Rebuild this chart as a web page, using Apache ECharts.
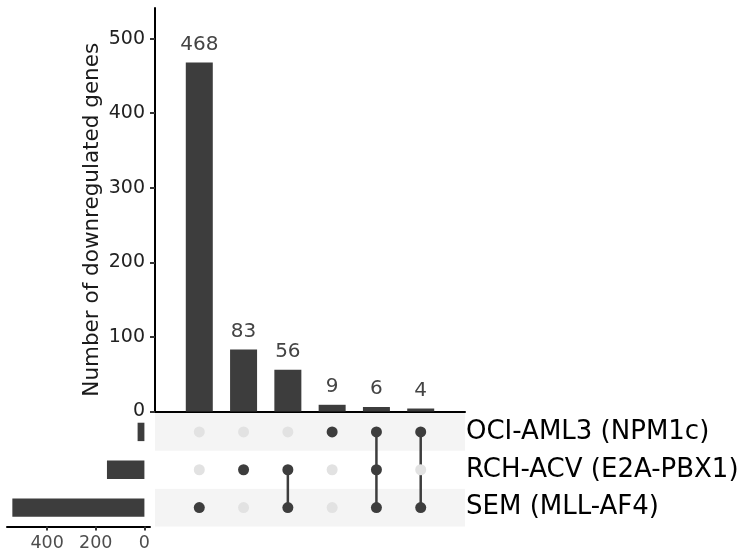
<!DOCTYPE html>
<html>
<head>
<meta charset="utf-8">
<script src="https://cdn.jsdelivr.net/npm/echarts@6/dist/echarts.min.js"></script>
<style>
html,body{margin:0;padding:0;background:#fff;}
#chart{width:739px;height:553px;}
</style>
</head>
<body>
<div id="chart"></div>
<script>
// ---- data ----
const intersectionNames = ['SEM', 'RCH', 'RCH&SEM', 'OCI', 'OCI&RCH&SEM', 'OCI&SEM'];
const intersectionSizes = [468, 83, 56, 9, 6, 4];
const setLabels = ['SEM (MLL-AF4)', 'RCH-ACV (E2A-PBX1)', 'OCI-AML3 (NPM1c)']; // bottom to top
const setSizes = [543, 154, 28];
const memberSEM = [1, 0, 1, 0, 1, 1];
const memberRCH = [0, 1, 1, 0, 1, 0];
const memberOCI = [0, 0, 0, 1, 1, 1];
const setSizeTicks = [0, 200, 400];
const yTitle = 'Number of downregulated genes';

const FONT = 'DejaVu Sans';
const DARK = '#3d3d3d';
const membership = [memberSEM, memberRCH, memberOCI];

const barData = intersectionSizes.map((v, i) => [i + 1, v]);
const dotData = [];
membership.forEach((row, r) => {
  row.forEach((m, i) => {
    dotData.push({ value: [i + 1, setLabels[r]], itemStyle: { color: m ? DARK : '#e2e2e2', opacity: 1 } });
  });
});
const lineSeries = [];
intersectionNames.forEach((name, i) => {
  const pts = [];
  membership.forEach((row, r) => { if (row[i]) pts.push([i + 1, setLabels[r]]); });
  if (pts.length > 1) {
    lineSeries.push({
      type: 'line', xAxisIndex: 1, yAxisIndex: 1, data: pts,
      showSymbol: false, symbol: 'none', silent: true, z: 2,
      lineStyle: { color: DARK, width: 2.5 }
    });
  }
});

const chart = echarts.init(document.getElementById('chart'), null, { renderer: 'canvas' });
chart.setOption({
  animation: false,
  backgroundColor: '#fff',
  textStyle: { fontFamily: FONT },
  grid: [
    { left: 155, top: 8, width: 310, height: 403.5, outerBoundsMode: 'none', containLabel: false },
    { left: 155, top: 413, width: 310, height: 113.5, outerBoundsMode: 'none', containLabel: false },
    { left: 7, top: 413, width: 143, height: 113.5, outerBoundsMode: 'none', containLabel: false }
  ],
  xAxis: [
    { gridIndex: 0, type: 'value', min: 0, max: 7,
      axisLine: { show: true, lineStyle: { color: '#000', width: 2 } },
      axisTick: { show: false }, axisLabel: { show: false }, splitLine: { show: false } },
    { gridIndex: 1, type: 'value', min: 0, max: 7, show: false, splitLine: { show: false } },
    { gridIndex: 2, type: 'value', min: -23, max: 565, inverse: true, position: 'bottom',
      axisLine: { show: true, onZero: false, lineStyle: { color: '#000', width: 2 } },
      axisTick: { show: true, length: 4, lineStyle: { color: '#333', width: 2 }, customValues: setSizeTicks },
      axisLabel: { show: true, margin: 8, color: '#4d4d4d', fontSize: 17.5, fontFamily: FONT, customValues: setSizeTicks },
      splitLine: { show: false } }
  ],
  yAxis: [
    { gridIndex: 0, type: 'value', min: 0, max: 541, interval: 100,
      name: yTitle, nameLocation: 'middle', nameGap: 52, nameRotate: 90,
      nameTextStyle: { fontSize: 21.5, color: '#1a1a1a', fontFamily: FONT, padding: [0, 20, 0, 0] },
      axisLine: { show: true, lineStyle: { color: '#000', width: 2 } },
      axisTick: { show: true, length: 5, lineStyle: { color: '#333', width: 2 } },
      axisLabel: { margin: 10, fontSize: 19, color: '#222', fontFamily: FONT, showMaxLabel: false },
      splitLine: { show: false } },
    { gridIndex: 1, type: 'category', data: setLabels, position: 'right',
      axisLine: { show: false }, axisTick: { show: false },
      axisLabel: { margin: 1, fontSize: 26, color: '#000', fontFamily: FONT },
      splitLine: { show: false },
      splitArea: { show: true, areaStyle: { color: ['#f4f4f4', '#ffffff'] } } },
    { gridIndex: 2, type: 'category', data: setLabels, show: false }
  ],
  series: [
    { type: 'bar', xAxisIndex: 0, yAxisIndex: 0, data: barData, barWidth: 27,
      itemStyle: { color: DARK },
      label: { show: true, position: 'top', distance: 8, fontSize: 20, color: '#444', fontFamily: FONT } },
    ...lineSeries,
    { type: 'scatter', xAxisIndex: 1, yAxisIndex: 1, data: dotData, symbolSize: 11, z: 3, silent: true },
    { type: 'bar', xAxisIndex: 2, yAxisIndex: 2, data: setSizes, barWidth: 18.4,
      itemStyle: { color: DARK } }
  ]
});
</script>
</body>
</html>
